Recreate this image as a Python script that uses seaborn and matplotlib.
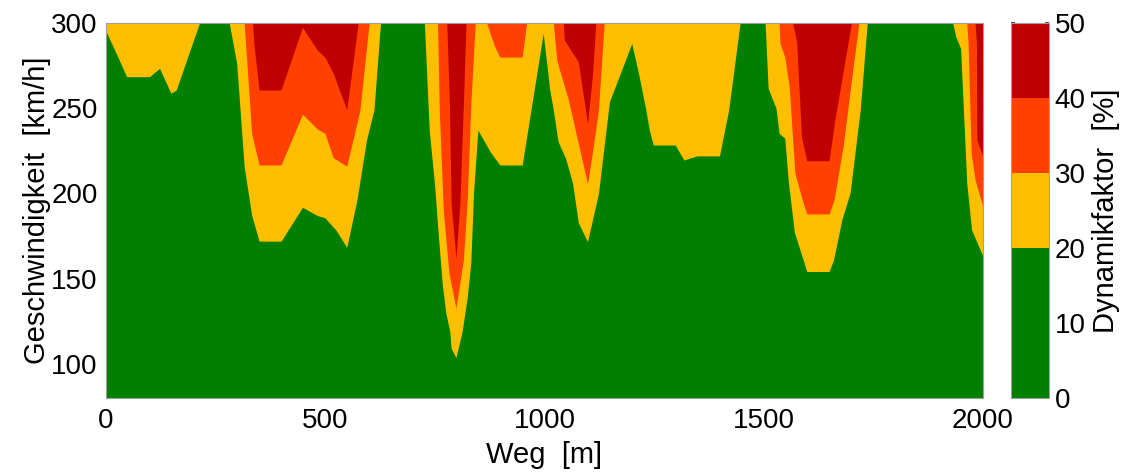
"""Dynamikfaktor over Weg und Geschwindigkeit as filled level bands."""

import matplotlib

matplotlib.use("Agg")

import matplotlib.pyplot as plt
import numpy as np
import seaborn as sns
from matplotlib.cm import ScalarMappable
from matplotlib.colors import BoundaryNorm, ListedColormap

# Level boundaries of the Dynamikfaktor in %, and the colour of each band.
LEVELS = [0, 20, 30, 40, 50]
LEVEL_COLORS = ["#007f00", "#ffbf00", "#ff4000", "#bf0000"]

# Upper edge of the 0-20 % band (green), speed in km/h over path in m.
x20 = [0, 27, 47, 99, 122, 148, 160, 213, 281, 298, 315, 332, 349, 399, 448,
       482, 499, 524, 549, 572, 594, 611, 626, 726, 737, 749, 758, 767, 775,
       784, 787, 798, 812, 824, 832, 838, 848, 876, 898, 949, 997, 1012, 1020,
       1031, 1048, 1064, 1077, 1098, 1123, 1148, 1199, 1216, 1231, 1239, 1248,
       1298, 1318, 1347, 1399, 1420, 1446, 1503, 1510, 1528, 1535, 1548, 1556,
       1570, 1590, 1598, 1649, 1659, 1678, 1697, 1720, 1736, 1931, 1938, 1949,
       1955, 1963, 1974, 2000]
b20 = [295, 280, 268.5, 268.5, 273.4, 258.8, 260.7, 300, 300, 276.3, 215.7,
       187.4, 172, 172, 191.9, 187, 185.8, 178.6, 168.4, 196, 231.4, 249, 300,
       300, 237.2, 206, 174.7, 146.3, 129.7, 119, 109.2, 103.7, 119, 139.5, 160,
       200, 237.2, 224.5, 216.7, 216.7, 294, 260.7, 249, 230.4, 220.6, 206,
       182.9, 171.7, 200, 253.8, 288, 268.5, 249, 237.2, 228.4, 228.4, 219.6,
       222, 222, 249, 300, 300, 261.7, 250, 235.3, 232.4, 207, 177, 161, 154.2,
       154.2, 161, 184.5, 200.5, 249, 300, 300, 292, 285, 251, 206, 178.6, 163]

# Upper edge of the 20-30 % band (yellow).
x30 = [0, 315, 332, 349, 399, 448, 482, 499, 518, 549, 579, 600, 756, 760,
       769, 782, 798, 815, 824, 832, 842, 868, 885, 898, 949, 959, 1020, 1028,
       1041, 1054, 1077, 1098, 1110, 1123, 1136, 1535, 1537, 1548, 1558, 1571,
       1590, 1598, 1649, 1660, 1681, 1701, 1717, 1963, 1966, 1973, 1982, 2000]
b30 = [300, 300, 235.3, 216.7, 216.7, 246.5, 237.8, 235.3, 221, 216, 249, 300,
       300, 249, 190.3, 153.2, 132.7, 161, 198, 253, 300, 300, 287, 280, 280,
       300, 300, 278, 266.6, 255.3, 229.4, 205.6, 225.5, 249, 300, 300, 288,
       280, 262.6, 211.9, 194.3, 188, 188, 196, 227.4, 268.5, 300, 300, 288,
       223.6, 208, 192]

# Upper edge of the 30-40 % band (orange); above it lies 40-50 % (dark red).
x40 = [0, 334, 337, 349, 399, 448, 482, 499, 518, 549, 575, 777, 783, 787,
       798, 807, 815, 821, 1043, 1045, 1077, 1098, 1109, 1117, 1566, 1575,
       1581, 1586, 1598, 1649, 1662, 1700, 1982, 1985, 1986, 2000]
b40 = [300, 300, 288, 260.7, 260.7, 297.5, 284, 280, 270.5, 249, 300, 300,
       253, 194.3, 162, 194.3, 253, 300, 300, 290, 277.3, 241, 268.5, 300, 300,
       289, 258.8, 233.3, 219.2, 219.2, 243, 300, 300, 288, 231.4, 221.6]

X_LIM = (0, 2000)
Y_LIM = (80, 300)
X_TICKS = [0, 500, 1000, 1500, 2000]
Y_TICKS = [100, 150, 200, 250, 300]
CBAR_TICKS = [0, 10, 20, 30, 40, 50]

TICK_SIZE = 20
LABEL_SIZE = 21

sns.set_theme(style="white")
plt.rcParams["font.family"] = ["Liberation Sans", "DejaVu Sans"]
plt.rcParams["text.color"] = "black"
plt.rcParams["axes.labelcolor"] = "black"

palette = sns.color_palette(LEVEL_COLORS)
frame_color = "#a0a0a0"

fig = plt.figure(figsize=(11.33, 4.72), dpi=100)
ax = fig.add_axes([0.0936, 0.1568, 0.774, 0.7945])
cax = fig.add_axes([0.8923, 0.1568, 0.0335, 0.7945])

# Paint bands from the top level down; each lower band covers the one above.
ax.fill_between(X_LIM, Y_LIM[0], Y_LIM[1], color=palette[3], linewidth=0)
ax.fill_between(x40, Y_LIM[0], b40, color=palette[2], linewidth=0)
ax.fill_between(x30, Y_LIM[0], b30, color=palette[1], linewidth=0)
ax.fill_between(x20, Y_LIM[0], b20, color=palette[0], linewidth=0)

ax.set_xlim(*X_LIM)
ax.set_ylim(*Y_LIM)
ax.set_xticks(X_TICKS)
ax.set_yticks(Y_TICKS)
ax.tick_params(direction="in", length=3, color="#555555", labelsize=TICK_SIZE,
               labelcolor="black")
ax.tick_params(axis="x", pad=7)
ax.tick_params(axis="y", pad=6)
ax.set_xlabel("Weg  [m]", fontsize=LABEL_SIZE, labelpad=5)
ax.set_ylabel("Geschwindigkeit  [km/h]", fontsize=LABEL_SIZE, labelpad=0)
for spine in ax.spines.values():
    spine.set_color(frame_color)
    spine.set_linewidth(0.8)

cmap = ListedColormap(LEVEL_COLORS)
norm = BoundaryNorm(LEVELS, cmap.N)
cbar = fig.colorbar(ScalarMappable(norm=norm, cmap=cmap), cax=cax,
                    spacing="proportional", ticks=CBAR_TICKS)
cbar.outline.set_edgecolor(frame_color)
cbar.outline.set_linewidth(0.8)
cax.tick_params(direction="in", length=3, color="#333333", labelsize=TICK_SIZE,
                labelcolor="black", pad=4, left=True, right=True)
cbar.set_label("Dynamikfaktor  [%]", fontsize=LABEL_SIZE, labelpad=5)

fig.savefig("out.png", dpi=100)
